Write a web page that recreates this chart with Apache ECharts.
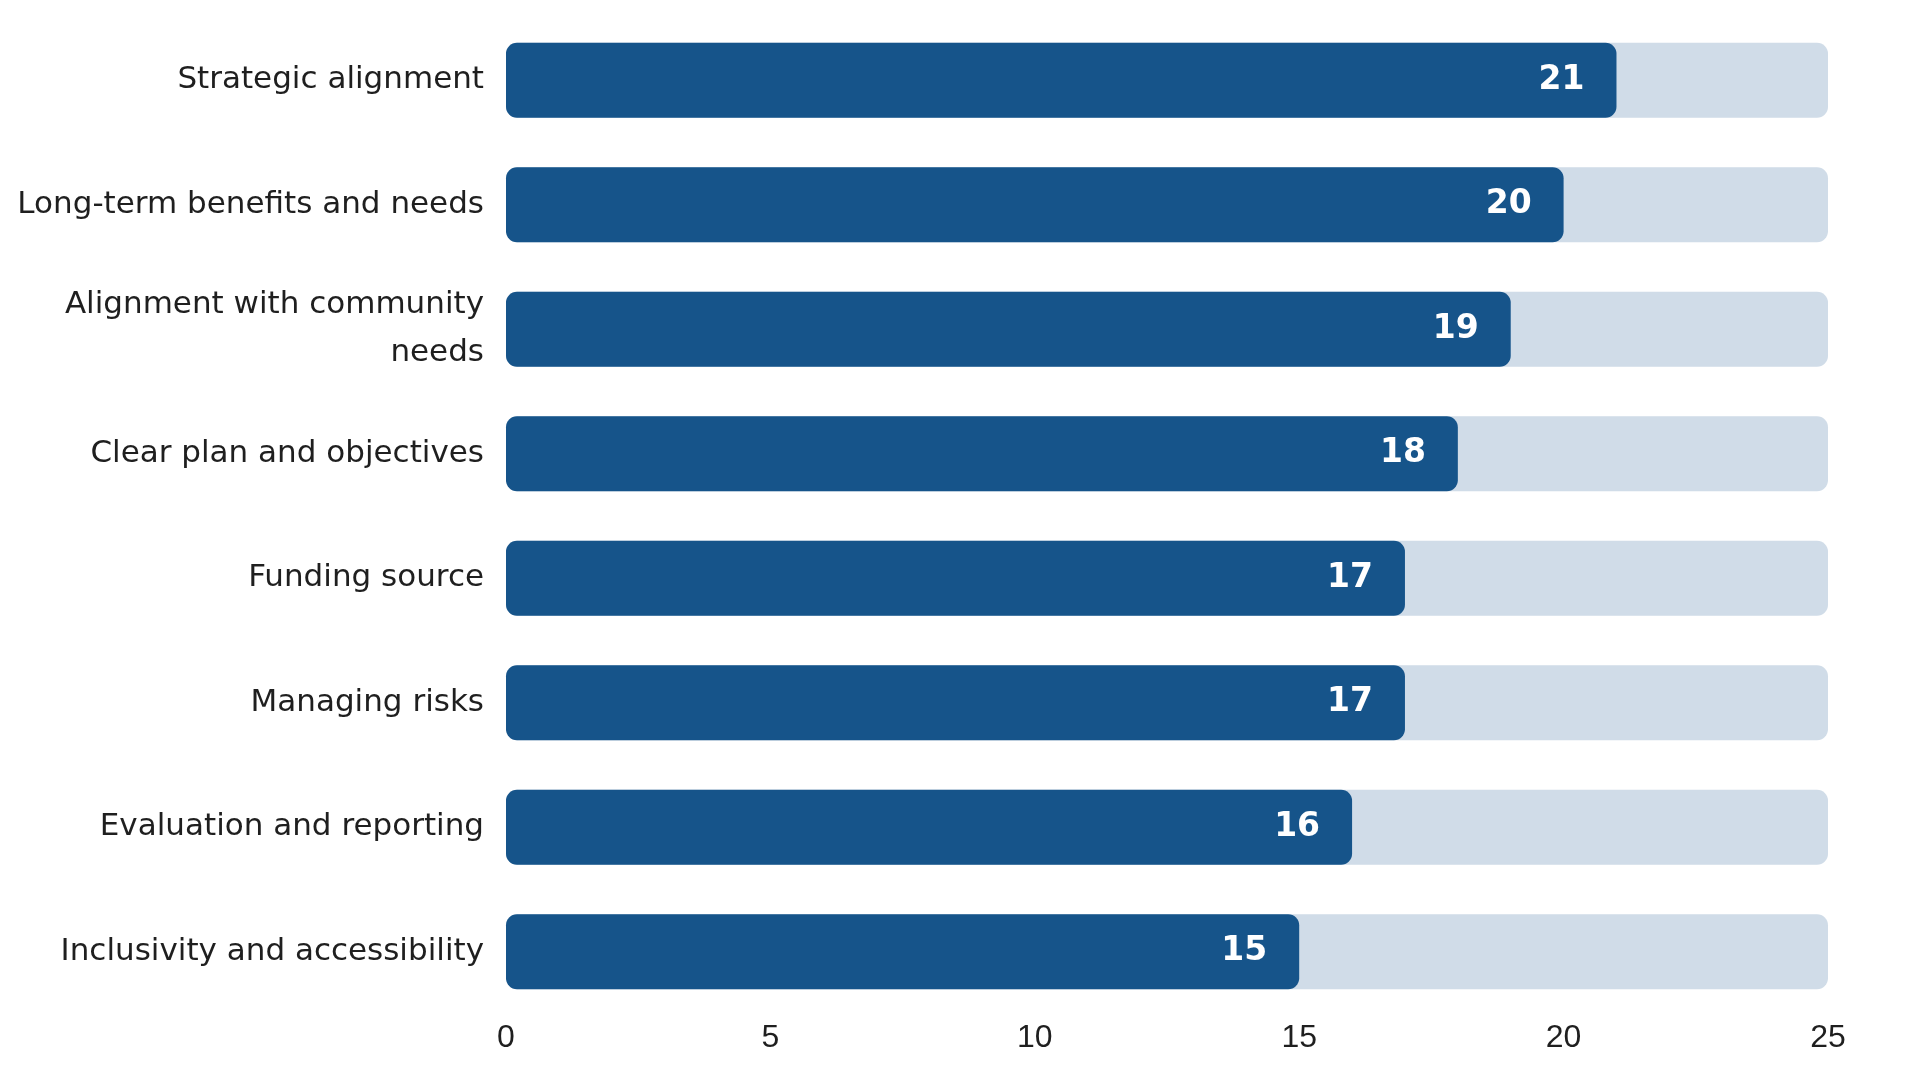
<!DOCTYPE html>
<html>
<head>
<meta charset="utf-8">
<script src="https://cdn.jsdelivr.net/npm/echarts@6/dist/echarts.min.js"></script>
<style>
html,body{margin:0;padding:0;background:#fff;}
#c{width:1920px;height:1080px;}
</style>
</head>
<body>
<div id="c"></div>
<script>
const categories = [
  "Strategic alignment",
  "Long-term benefits and needs",
  "Alignment with community needs",
  "Clear plan and objectives",
  "Funding source",
  "Managing risks",
  "Evaluation and reporting",
  "Inclusivity and accessibility"
];
const values = [21, 20, 19, 18, 17, 17, 16, 15];
const axisMin = 0, axisMax = 25, axisInterval = 5;

const catFont = '31px "DejaVu Sans"';
const maxLabelWidth = 490;
const ctx = document.createElement('canvas').getContext('2d');
ctx.font = catFont;
function wrapLabel(text) {
  const words = text.split(' ');
  const lines = [];
  let cur = '';
  words.forEach(w => {
    const test = cur ? cur + ' ' + w : w;
    if (cur && ctx.measureText(test).width > maxLabelWidth) {
      lines.push(cur);
      cur = w;
    } else {
      cur = test;
    }
  });
  if (cur) lines.push(cur);
  return lines.join('\n');
}

const chart = echarts.init(document.getElementById('c'));
chart.setOption({
  backgroundColor: '#ffffff',
  animation: false,
  grid: { left: 506, right: 92, top: 18, bottom: 66, containLabel: false, outerBoundsMode: 'none' },
  xAxis: {
    type: 'value', min: axisMin, max: axisMax, interval: axisInterval,
    axisLine: { show: false }, axisTick: { show: false }, splitLine: { show: false },
    axisLabel: { color: '#1f1f1f', fontSize: 32, fontFamily: 'Liberation Sans', margin: 8 }
  },
  yAxis: {
    type: 'category', data: categories, inverse: true,
    axisLine: { show: false }, axisTick: { show: false },
    axisLabel: {
      color: '#1f1f1f', fontSize: 31, fontFamily: 'DejaVu Sans', margin: 22,
      lineHeight: 48, align: 'right', formatter: wrapLabel
    }
  },
  series: [{
    type: 'bar', data: values, barWidth: 75,
    itemStyle: { color: '#16548a', borderRadius: 11 },
    showBackground: true,
    backgroundStyle: { color: '#d0dce8', borderRadius: 11 },
    label: {
      show: true, position: 'insideRight', distance: 32,
      color: '#ffffff', fontSize: 33, fontWeight: 'bold', fontFamily: 'DejaVu Sans'
    }
  }]
});
</script>
</body>
</html>
